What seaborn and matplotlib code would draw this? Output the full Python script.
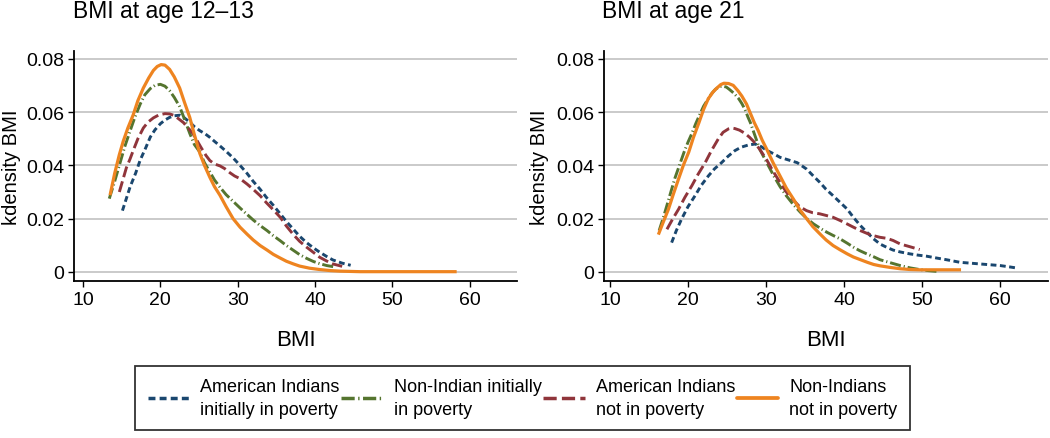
import matplotlib
matplotlib.use("Agg")
import matplotlib.pyplot as plt
import numpy as np
import pandas as pd
import seaborn as sns
from matplotlib.lines import Line2D

# ---------------- data ----------------
groups = ["American Indians\ninitially in poverty",
          "Non-Indian initially\nin poverty",
          "American Indians\nnot in poverty",
          "Non-Indians\nnot in poverty"]
panel_titles = ["BMI at age 12\u201313", "BMI at age 21"]
x_ticks = [10, 20, 30, 40, 50, 60]
y_ticks = [0, 0.02, 0.04, 0.06, 0.08]
y_tick_labels = ["0", "0.02", "0.04", "0.06", "0.08"]

# Age 12-13
x12_ai_pov = [15.1, 15.6, 16.1, 16.8, 17.4, 18.1, 18.7, 19.3, 20.0, 20.6, 21.2, 21.8, 22.5, 23.1,
              23.8, 24.4, 25.1, 25.8, 26.4, 27.0, 27.7, 28.6, 29.4, 30.3, 31.2, 32.0, 32.9, 33.7,
              34.6, 35.5, 36.3, 37.2, 38.0, 38.9, 39.8, 40.6, 41.5, 42.3, 43.5, 44.6]
y12_ai_pov = [0.023, 0.0275, 0.032, 0.037, 0.042, 0.0465, 0.0506, 0.0533, 0.0556, 0.057, 0.058,
              0.0586, 0.0588, 0.0578, 0.0562, 0.0545, 0.053, 0.0518, 0.0505, 0.049, 0.0473,
              0.045, 0.0428, 0.040, 0.037, 0.034, 0.031, 0.028, 0.025, 0.0218, 0.0189, 0.016,
              0.0134, 0.011, 0.009, 0.0074, 0.0058, 0.0045, 0.0033, 0.0025]
x12_ni_pov = [13.4, 14.1, 14.8, 15.4, 16.1, 16.7, 17.4, 18.0, 18.7, 19.3, 20.0, 20.6, 21.2, 21.8,
              22.5, 23.1, 23.8, 24.4, 25.1, 25.7, 26.4, 27.0, 27.7, 28.5, 29.4, 30.3, 31.2, 32.0,
              32.9, 33.8, 34.6, 35.5, 36.3, 37.2, 38.0, 38.9, 39.8, 40.6, 41.5, 42.7]
y12_ni_pov = [0.0275, 0.034, 0.041, 0.047, 0.053, 0.058, 0.063, 0.0665, 0.0688, 0.070, 0.0704,
              0.0697, 0.068, 0.0655, 0.062, 0.0575, 0.052, 0.0478, 0.045, 0.041, 0.0375, 0.0345,
              0.0318, 0.029, 0.0265, 0.024, 0.0216, 0.0195, 0.0174, 0.0155, 0.0136, 0.0117,
              0.0099, 0.0081, 0.0065, 0.0051, 0.0039, 0.0031, 0.0024, 0.0018]
x12_ai_np = [14.7, 15.2, 15.6, 16.1, 16.5, 17.1, 17.8, 18.4, 19.1, 19.8, 20.6, 21.2, 21.7, 22.3,
             23.0, 23.6, 24.2, 24.8, 25.3, 25.9, 26.4, 27.0, 27.7, 28.3, 29.0, 29.6, 30.3, 31.2,
             32.0, 32.9, 33.7, 34.6, 35.5, 36.3, 37.2, 38.0, 38.9, 39.8, 40.6, 41.5, 42.3, 43.5]
y12_ai_np = [0.030, 0.035, 0.039, 0.0425, 0.0456, 0.050, 0.054, 0.0562, 0.0578, 0.0589, 0.0594,
             0.0593, 0.0588, 0.0576, 0.056, 0.054, 0.052, 0.049, 0.0465, 0.0437, 0.0418, 0.0405,
             0.0398, 0.0388, 0.0372, 0.036, 0.035, 0.033, 0.031, 0.0286, 0.026, 0.0233, 0.0205,
             0.0172, 0.014, 0.0115, 0.0093, 0.0073, 0.0055, 0.0041, 0.003, 0.0021]
x12_ni_np = [13.5, 14.1, 14.7, 15.2, 15.8, 16.5, 17.1, 17.8, 18.5, 19.1, 19.6, 20.1, 20.6, 21.2,
             21.8, 22.5, 23.1, 23.8, 24.4, 25.1, 25.7, 26.4, 27.0, 27.7, 28.5, 29.4, 30.3, 31.2,
             32.0, 32.9, 33.8, 34.6, 35.5, 36.3, 37.2, 38.0, 39.3, 40.6, 42.0, 43.2, 45.8, 50.0,
             54.0, 58.3]
y12_ni_np = [0.0288, 0.037, 0.044, 0.049, 0.054, 0.059, 0.0643, 0.069, 0.0728, 0.0756, 0.0771,
             0.0778, 0.0776, 0.076, 0.0732, 0.069, 0.0638, 0.058, 0.0515, 0.0445, 0.040, 0.0355,
             0.032, 0.0288, 0.0245, 0.020, 0.0168, 0.0142, 0.012, 0.0099, 0.0082, 0.0066,
             0.0052, 0.004, 0.003, 0.0022, 0.0014, 0.0009, 0.0005, 0.0003, 0.0001, 0.0001,
             0.0001, 0.0001]

# Age 21
x21_ai_pov = [17.9, 18.5, 19.2, 20.0, 20.9, 21.7, 22.6, 23.4, 24.3, 25.1, 26.0, 26.8, 27.7, 28.6,
              29.4, 30.1, 31.0, 31.8, 32.9, 34.0, 35.2, 36.0, 36.9, 37.7, 38.6, 39.5, 40.4, 41.2,
              42.1, 43.0, 43.8, 44.6, 45.5, 46.3, 47.2, 48.4, 49.5, 50.6, 51.9, 53.1, 54.0, 54.9,
              56.2, 57.4, 58.7, 60.0, 61.2, 62.3]
y21_ai_pov = [0.011, 0.0155, 0.020, 0.0245, 0.0286, 0.0325, 0.036, 0.0387, 0.041, 0.0433,
              0.0455, 0.0468, 0.0476, 0.048, 0.047, 0.0456, 0.0443, 0.043, 0.042, 0.041, 0.0386,
              0.0362, 0.0336, 0.031, 0.0286, 0.0261, 0.0236, 0.0205, 0.0174, 0.0147, 0.0124,
              0.0105, 0.0092, 0.0082, 0.0075, 0.0068, 0.0063, 0.0059, 0.0052, 0.0046, 0.0041,
              0.0036, 0.0033, 0.003, 0.0027, 0.0024, 0.0019, 0.0014]
x21_ni_pov = [16.3, 16.9, 17.5, 18.3, 18.9, 19.5, 20.0, 20.5, 21.0, 21.5, 22.0, 22.6, 23.0, 23.5,
              24.0, 24.4, 24.9, 25.3, 25.9, 26.5, 26.9, 27.3, 27.7, 28.0, 28.6, 29.2, 30.1, 31.0,
              31.8, 32.6, 33.5, 34.4, 35.2, 36.1, 37.0, 37.8, 38.6, 39.5, 40.4, 41.2, 42.0, 42.9,
              43.8, 44.6, 45.3, 46.0, 47.2, 48.5, 49.7, 50.8, 51.9]
y21_ni_pov = [0.0155, 0.021, 0.027, 0.035, 0.040, 0.045, 0.0487, 0.052, 0.0557, 0.059, 0.0622,
              0.065, 0.0668, 0.0685, 0.0695, 0.0697, 0.0694, 0.0685, 0.067, 0.065, 0.0632, 0.061,
              0.058, 0.056, 0.051, 0.046, 0.041, 0.036, 0.032, 0.0286, 0.0253, 0.0224, 0.0201,
              0.018, 0.0163, 0.0149, 0.0137, 0.0124, 0.0108, 0.0093, 0.008, 0.0068, 0.0057,
              0.0046, 0.004, 0.0034, 0.0024, 0.0015, 0.0009, 0.0005, 0.0002]
x21_ai_np = [17.3, 18.0, 18.8, 19.6, 20.5, 21.3, 22.2, 23.0, 23.9, 24.5, 25.2, 25.6, 26.0, 26.6,
             27.3, 27.9, 28.4, 29.2, 30.1, 30.9, 31.8, 32.6, 33.5, 34.3, 35.2, 36.0, 36.9, 37.7,
             38.6, 39.5, 40.4, 41.2, 42.1, 43.0, 43.8, 44.6, 45.5, 46.3, 47.2, 48.4, 49.7]
y21_ai_np = [0.016, 0.0197, 0.0236, 0.028, 0.0324, 0.0367, 0.041, 0.0455, 0.050, 0.0524, 0.0537,
             0.054, 0.0538, 0.0532, 0.052, 0.0505, 0.049, 0.046, 0.042, 0.0378, 0.0336, 0.030,
             0.027, 0.0245, 0.023, 0.0222, 0.0218, 0.0212, 0.0205, 0.0193, 0.018, 0.0168,
             0.0155, 0.0144, 0.0136, 0.013, 0.0126, 0.0118, 0.0105, 0.0095, 0.0084]
x21_ni_np = [16.2, 16.8, 17.5, 18.1, 18.8, 19.4, 20.1, 20.7, 21.4, 22.0, 22.6, 23.2, 23.7, 24.2,
             24.6, 25.2, 25.8, 26.4, 26.9, 27.5, 28.0, 28.5, 29.0, 29.5, 30.1, 30.9, 31.8, 32.6,
             33.5, 34.3, 35.2, 36.0, 36.9, 37.7, 38.6, 39.5, 40.4, 41.2, 42.1, 43.0, 43.8, 44.6,
             45.9, 47.2, 48.5, 49.7, 52.3, 55.0]
y21_ni_np = [0.014, 0.0185, 0.0236, 0.029, 0.035, 0.040, 0.045, 0.0505, 0.056, 0.061, 0.065,
             0.0675, 0.069, 0.0703, 0.0708, 0.0707, 0.070, 0.068, 0.066, 0.063, 0.0595, 0.056,
             0.053, 0.0495, 0.046, 0.041, 0.036, 0.0315, 0.0274, 0.0235, 0.020, 0.017, 0.0143,
             0.012, 0.0099, 0.0083, 0.0068, 0.0056, 0.0046, 0.0036, 0.0028, 0.0023, 0.0017,
             0.0012, 0.0009, 0.0008, 0.0008, 0.0008]

series = {
    panel_titles[0]: [(x12_ai_pov, y12_ai_pov), (x12_ni_pov, y12_ni_pov),
                      (x12_ai_np, y12_ai_np), (x12_ni_np, y12_ni_np)],
    panel_titles[1]: [(x21_ai_pov, y21_ai_pov), (x21_ni_pov, y21_ni_pov),
                      (x21_ai_np, y21_ai_np), (x21_ni_np, y21_ni_np)],
}

rows = []
for title, lst in series.items():
    for g, (xs, ys) in zip(groups, lst):
        for i, (xv, yv) in enumerate(zip(xs, ys)):
            rows.append({"panel": title, "group": g, "order": i, "BMI": xv, "density": yv})
df = pd.DataFrame(rows)

# ---------------- styling ----------------
colors = {groups[0]: "#1a476f", groups[1]: "#55752f", groups[2]: "#90353b", groups[3]: "#ee8420"}
dashes = {groups[0]: (2.0, 1.2), groups[1]: (3.8, 1.0, 0.4, 1.0),
          groups[2]: (3.8, 1.5), groups[3]: ""}
widths = {groups[0]: 2.1, groups[1]: 2.1, groups[2]: 2.1, groups[3]: 2.3}

sns.set_theme(style="white")
plt.rcParams["font.family"] = ["Liberation Sans", "DejaVu Sans"]
plt.rcParams["text.color"] = "black"
plt.rcParams["axes.labelcolor"] = "black"
plt.rcParams["xtick.color"] = "black"
plt.rcParams["ytick.color"] = "black"

W, H = 1050, 439
fig = plt.figure(figsize=(W / 100, H / 100), dpi=100)
ax_rects = [[74 / W, (H - 282) / H, 443 / W, 230 / H],
            [604 / W, (H - 282) / H, 444 / W, 230 / H]]
xlims = [(8.84, 66.1), (9.23, 66.15)]
title_x = [73, 602]
ylabel_right_px = [21, 549]

for k, title in enumerate(panel_titles):
    ax = fig.add_axes(ax_rects[k])
    sub = df[df["panel"] == title]
    for g in groups:
        sns.lineplot(data=sub[sub["group"] == g], x="BMI", y="density", sort=False,
                     estimator=None, color=colors[g], linewidth=widths[g],
                     dashes=False, ax=ax, legend=False)
        line = ax.lines[-1]
        if dashes[g]:
            line.set_dashes(dashes[g])
        line.set_solid_capstyle("butt")
        line.set_dash_capstyle("butt")
        line.set_solid_joinstyle("round")
        line.set_dash_joinstyle("round")
    ax.set_xlim(*xlims[k])
    ax.set_ylim(-0.0034, 0.0829)
    ax.set_xticks(x_ticks)
    ax.set_xticklabels([str(t) for t in x_ticks], fontsize=14)
    ax.set_yticks(y_ticks)
    ax.set_yticklabels(y_tick_labels, fontsize=14)
    ax.yaxis.grid(True, color="#c6c6c6", linewidth=1.3)
    ax.xaxis.grid(False)
    ax.set_axisbelow(True)
    for s in ["top", "right"]:
        ax.spines[s].set_visible(False)
    for s in ["left", "bottom"]:
        ax.spines[s].set_color("black")
        ax.spines[s].set_linewidth(1.3)
    ax.tick_params(axis="both", which="major", direction="out", length=4.5, width=1.0,
                   pad=2.5, left=True, bottom=True)
    ax.set_xlabel("BMI", fontsize=16, labelpad=15)
    ax.set_ylabel("kdensity BMI", fontsize=14.5)
    x0 = ax_rects[k][0] * W
    wpx = ax_rects[k][2] * W
    ax.yaxis.set_label_coords((ylabel_right_px[k] - x0) / wpx, 0.5)
    fig.text(title_x[k] / W, 1 - 18 / H, title, fontsize=16.5, ha="left", va="baseline")

handles = []
for g in groups:
    h = Line2D([0], [0], color=colors[g], linewidth=widths[g] + 0.4)
    if dashes[g]:
        h.set_dashes(dashes[g])
    h.set_dash_capstyle("butt")
    handles.append(h)

leg = fig.legend(handles, groups, loc="center",
                 bbox_to_anchor=(135 / W, 4 / H, 775 / W, 72 / H), mode="expand", ncol=4,
                 frameon=True, fancybox=False, edgecolor="black", fontsize=13,
                 handlelength=2.3, handletextpad=0.6, borderaxespad=0, borderpad=0.7,
                 columnspacing=1.0)
leg.get_frame().set_linewidth(1.3)
for t in leg.get_texts():
    t.set_linespacing(1.4)

fig.savefig("out.png", dpi=100)
